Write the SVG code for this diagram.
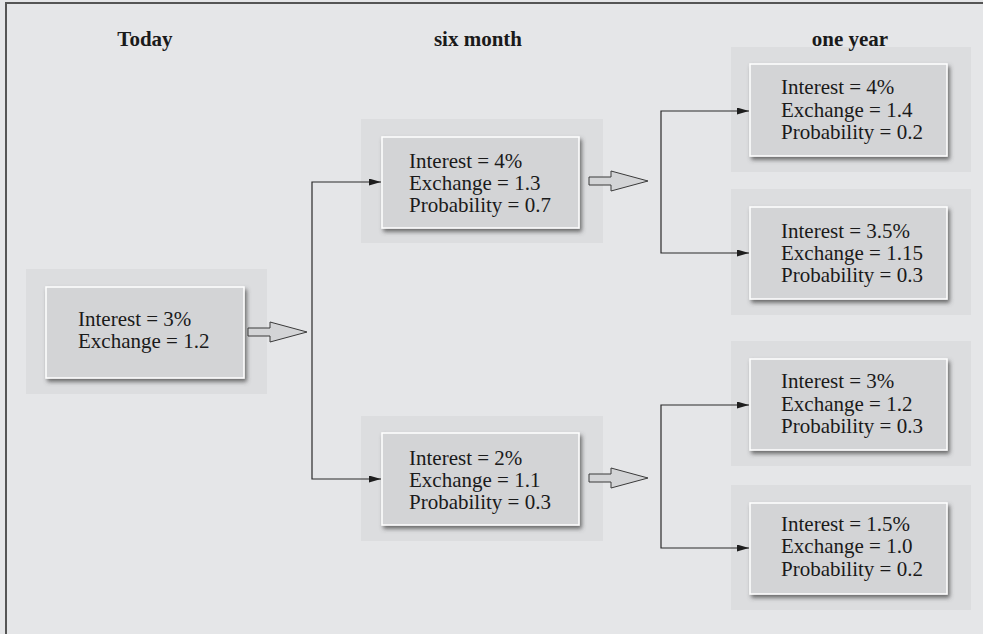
<svg xmlns="http://www.w3.org/2000/svg" width="983" height="634" viewBox="0 0 983 634">
<style>
.bg{fill:#e5e6e8}
.panel{fill:#dcdddf}
.box{fill:#d3d4d6;stroke:#ffffff;stroke-width:1.5;filter:url(#sh)}
.t{font-family:"Liberation Serif","Times New Roman",serif;font-size:21px;fill:#1a1a1a}
.h{font-family:"Liberation Serif","Times New Roman",serif;font-size:21px;font-weight:bold;fill:#1a1a1a;text-anchor:middle}
.conn{fill:none;stroke:#2a2a2a;stroke-width:1.2;marker-end:url(#ah)}
.blk{fill:#d3d4d6;stroke:#3a3a3a;stroke-width:1}
</style>
<defs>
<filter id="sh" x="-10%" y="-10%" width="125%" height="130%">
<feDropShadow dx="2" dy="3" stdDeviation="2" flood-color="#4a4a4a" flood-opacity="0.8"/>
</filter>
<marker id="ah" markerUnits="userSpaceOnUse" markerWidth="13" markerHeight="8" refX="12" refY="3.5" orient="auto">
<path d="M0,0 L12,3.5 L0,7 Z" fill="#1e1e1e"/>
</marker>
</defs>
<rect class="bg" x="0" y="0" width="983" height="634"/>
<path d="M6,634 V3 H983" fill="none" stroke="#555" stroke-width="2"/>
<g id="today">
<rect class="panel" x="26" y="269" width="241" height="125"/>
<rect class="box" x="46" y="287" width="198" height="91"/>
<text class="t" x="78" y="326">Interest = 3%</text>
<text class="t" x="78" y="348">Exchange = 1.2</text>
</g>
<g id="six-month-up">
<rect class="panel" x="361" y="119" width="242" height="124"/>
<rect class="box" x="382" y="137" width="197" height="91"/>
<text class="t" x="409" y="168">Interest = 4%</text>
<text class="t" x="409" y="190">Exchange = 1.3</text>
<text class="t" x="409" y="212">Probability = 0.7</text>
</g>
<g id="six-month-down">
<rect class="panel" x="361" y="416" width="242" height="125"/>
<rect class="box" x="382" y="433" width="197" height="92"/>
<text class="t" x="409" y="465">Interest = 2%</text>
<text class="t" x="409" y="487">Exchange = 1.1</text>
<text class="t" x="409" y="509">Probability = 0.3</text>
</g>
<g id="year-1">
<rect class="panel" x="731" y="47" width="240" height="125"/>
<rect class="box" x="750" y="64" width="197" height="92"/>
<text class="t" x="781" y="94">Interest = 4%</text>
<text class="t" x="781" y="117">Exchange = 1.4</text>
<text class="t" x="781" y="139">Probability = 0.2</text>
</g>
<g id="year-2">
<rect class="panel" x="731" y="189" width="240" height="126"/>
<rect class="box" x="750" y="207" width="197" height="92"/>
<text class="t" x="781" y="238">Interest = 3.5%</text>
<text class="t" x="781" y="260">Exchange = 1.15</text>
<text class="t" x="781" y="282">Probability = 0.3</text>
</g>
<g id="year-3">
<rect class="panel" x="731" y="341" width="240" height="125"/>
<rect class="box" x="750" y="359" width="197" height="91"/>
<text class="t" x="781" y="388">Interest = 3%</text>
<text class="t" x="781" y="411">Exchange = 1.2</text>
<text class="t" x="781" y="433">Probability = 0.3</text>
</g>
<g id="year-4">
<rect class="panel" x="731" y="485" width="240" height="125"/>
<rect class="box" x="750" y="503" width="197" height="91"/>
<text class="t" x="781" y="531">Interest = 1.5%</text>
<text class="t" x="781" y="553">Exchange = 1.0</text>
<text class="t" x="781" y="576">Probability = 0.2</text>
</g>
<g id="connectors">
<path class="conn" d="M312,332 V182 H381"/>
<path class="conn" d="M312,332 V479 H381"/>
<path class="conn" d="M661,181 V111 H749"/>
<path class="conn" d="M661,181 V253 H749"/>
<path class="conn" d="M661,478 V405 H749"/>
<path class="conn" d="M661,478 V548 H749"/>
<path class="blk" d="M248,328 H270 V322 L307,332 L270,342 V336 H248 Z"/>
<path class="blk" d="M589,177 H611 V171 L648,181 L611,191 V185 H589 Z"/>
<path class="blk" d="M589,474 H611 V468 L648,478 L611,488 V482 H589 Z"/>
</g>
<g id="headers">
<text class="h" x="145" y="46">Today</text>
<text class="h" x="478" y="46">six month</text>
<text class="h" x="850" y="46">one year</text>
</g>
</svg>
